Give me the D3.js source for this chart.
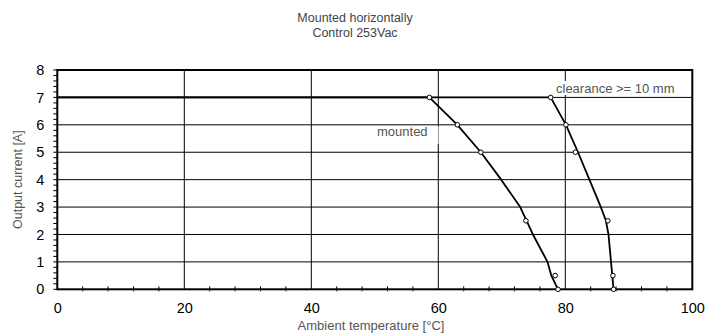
<!DOCTYPE html>
<html>
<head>
<meta charset="utf-8">
<script src="https://cdn.jsdelivr.net/npm/d3@7"></script>
<style>
  html, body { margin: 0; padding: 0; background: #fff; }
  svg { display: block; font-family: "Liberation Sans", Arial, sans-serif; }
</style>
</head>
<body>
<svg id="chart" width="723" height="336"></svg>
<script>
// Derating curves: output current vs ambient temperature
const titleLines = ["Mounted horizontally", "Control 253Vac"];
const xTicks = [0, 20, 40, 60, 80, 100];
const yTicks = [0, 1, 2, 3, 4, 5, 6, 7, 8];

// "mounted" curve (temperature °C, current A)
const mountedTemp    = [0, 58.6, 63.0, 66.7, 69.9, 72.9, 74.9, 77.2, 77.8, 78.85];
const mountedCurrent = [7, 7,    6,    5,    4,    3,    2,    1,    0.5,  0];
const mountedMarkTemp    = [58.6, 63.0, 66.7, 73.8, 78.4, 78.85];
const mountedMarkCurrent = [7,    6,    5,    2.5,  0.5,  0];

// "clearance >= 10 mm" curve
const clearTemp    = [0, 77.7, 80.1, 82.0, 83.8, 85.6, 86.4, 86.8, 87.2, 87.4, 87.6];
const clearCurrent = [7, 7,    6,    5,    4,    3,    2.5,  2,    1,    0.5,  0];
const clearMarkTemp    = [77.7, 80.1, 81.6, 86.7, 87.5, 87.6];
const clearMarkCurrent = [7,    6,    5,    2.5,  0.5,  0];

const svg = d3.select("#chart");
const plotL = 57.3, plotR = 692.3, plotT = 70, plotB = 289.3;

const x = d3.scaleLinear().domain([0, 100]).range([plotL, plotR]);
const y = d3.scaleLinear().domain([0, 8]).range([plotB, plotT]);

// Title
svg.append("g").selectAll("text").data(titleLines).join("text")
  .attr("x", 355).attr("y", (d, i) => 21.7 + i * 15)
  .attr("text-anchor", "middle").attr("font-size", 12.5).attr("fill", "#444")
  .text(d => d);

// Grid lines
const grid = svg.append("g").attr("stroke", "#000").attr("stroke-width", 1);
grid.selectAll("line.h").data(yTicks.slice(1, -1)).join("line")
  .attr("x1", plotL).attr("x2", plotR)
  .attr("y1", d => y(d)).attr("y2", d => y(d));
grid.selectAll("line.v").data(xTicks.slice(1, -1)).join("line")
  .attr("y1", plotT).attr("y2", plotB)
  .attr("x1", d => x(d)).attr("x2", d => x(d));

// Minor ticks on x (every 4 °C) and y (every 0.2 A)
const xMinor = d3.range(0, 101, 4).filter(v => v % 20 !== 0);
svg.append("g").selectAll("line").data(xMinor).join("line")
  .attr("x1", d => x(d)).attr("x2", d => x(d))
  .attr("y1", plotB - 3).attr("y2", plotB + 2)
  .attr("stroke", "#000").attr("stroke-width", 1);
const yMinor = d3.range(0, 8.001, 0.2);
svg.append("g").selectAll("line").data(yMinor).join("line")
  .attr("x1", plotL - 4).attr("x2", plotL)
  .attr("y1", d => y(d)).attr("y2", d => y(d))
  .attr("stroke", "#000").attr("stroke-width", 1);

// Axes (labels only, frame drawn separately)
const xAxis = d3.axisBottom(x).tickValues(xTicks).tickSize(0).tickPadding(13);
svg.append("g").attr("transform", `translate(0,${plotB})`).call(xAxis)
  .call(g => g.select(".domain").remove())
  .selectAll("text").attr("font-size", 14.5).attr("fill", "#000")
  .attr("font-family", "Liberation Sans, Arial, sans-serif");
const yAxis = d3.axisLeft(y).tickValues(yTicks).tickSize(0).tickPadding(13);
svg.append("g").attr("transform", `translate(${plotL},0)`).call(yAxis)
  .call(g => g.select(".domain").remove())
  .selectAll("text").attr("font-size", 14.5).attr("fill", "#000")
  .attr("font-family", "Liberation Sans, Arial, sans-serif");

// Plot frame
svg.append("rect")
  .attr("x", plotL).attr("y", plotT)
  .attr("width", plotR - plotL).attr("height", plotB - plotT)
  .attr("fill", "none").attr("stroke", "#000").attr("stroke-width", 2);

// Axis titles
svg.append("text").attr("x", 371).attr("y", 330)
  .attr("text-anchor", "middle").attr("font-size", 13).attr("fill", "#555")
  .text("Ambient temperature [°C]");
svg.append("text")
  .attr("transform", `translate(22,${(plotT + plotB) / 2}) rotate(-90)`)
  .attr("text-anchor", "middle").attr("font-size", 12.5).attr("fill", "#555")
  .text("Output current [A]");

// Curve labels with white backing
function label(txt, tx, ty, box) {
  const g = svg.append("g");
  g.append("rect").attr("x", box[0]).attr("y", box[1])
    .attr("width", box[2]).attr("height", box[3]).attr("fill", "#fff");
  g.append("text").attr("x", tx).attr("y", ty)
    .attr("font-size", 13).attr("fill", "#555").text(txt);
}
label("mounted", 377, 136, [372, 126, 66.5, 18]);
label("clearance >= 10 mm", 556, 93, [553, 81, 128, 14]);

// Curves
const line = d3.line().x(d => x(d[0])).y(d => y(d[1])).curve(d3.curveLinear);
const series = [
  { temp: mountedTemp, cur: mountedCurrent, mt: mountedMarkTemp, mc: mountedMarkCurrent },
  { temp: clearTemp, cur: clearCurrent, mt: clearMarkTemp, mc: clearMarkCurrent }
];
series.forEach(s => {
  const pts = s.temp.map((t, i) => [t, s.cur[i]]);
  svg.append("path").datum(pts).attr("d", line)
    .attr("fill", "none").attr("stroke", "#000").attr("stroke-width", 1.8)
    .attr("stroke-linejoin", "round");
});
series.forEach(s => {
  const marks = s.mt.map((t, i) => [t, s.mc[i]]);
  svg.append("g").selectAll("circle").data(marks).join("circle")
    .attr("cx", d => x(d[0])).attr("cy", d => y(d[1])).attr("r", 2.3)
    .attr("fill", "#fff").attr("stroke", "#000").attr("stroke-width", 1);
});
</script>
</body>
</html>
